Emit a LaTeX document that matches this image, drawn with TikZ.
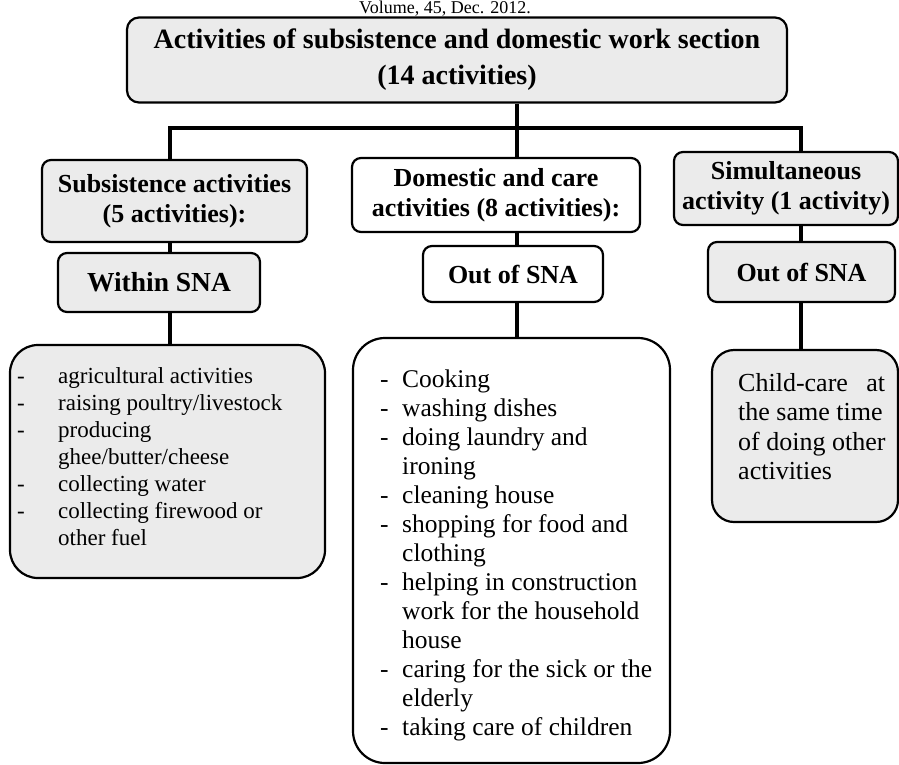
\documentclass[tikz,border=0pt]{standalone}
\usepackage{fontspec}
\setmainfont{Liberation Serif}
\newcommand\hdfont{\bfseries\fontsize{26}{30}\selectfont}
\newcommand\ttlfont{\bfseries\fontsize{28}{36}\selectfont}
\newcommand\lsta{\fontsize{23}{27}\selectfont}
\newcommand\lstb{\fontsize{25.5}{29}\selectfont}
\newcommand\lstc{\fontsize{26}{29.5}\selectfont}
\newcommand\dsha{\makebox[41pt][l]{-}}
\newcommand\inda{\hspace*{41pt}}
\newcommand\dshb{\makebox[22pt][l]{-}}
\newcommand\indb{\hspace*{22pt}}
\begin{document}
\begin{tikzpicture}[x=1pt,y=-1pt,
  box/.style={draw, line width=2.2pt, inner sep=0pt, align=center, rounded corners=9pt, font=\hdfont},
  shaded/.style={fill=black!8},
  plain/.style={fill=white},
  conn/.style={line width=4.5pt},
  txt/.style={inner sep=0pt, anchor=north west, align=left}]
\useasboundingbox (0,0) rectangle (899,764);
\node[anchor=base, font=\fontsize{18}{22}\selectfont, inner sep=0pt] (hdr) at (445,13.5) {Volume, 45, Dec. 2012.};
% coordinates of branches
\coordinate (xl) at (170,128);
\coordinate (xm) at (517,128);
\coordinate (xr) at (801,128);
% boxes
\node[box, shaded, minimum width=660pt, minimum height=85pt, font=\ttlfont, rounded corners=12pt] (top) at (457,60) {Activities of subsistence and domestic work section\\(14 activities)};
\node[box, shaded, minimum width=265pt, minimum height=82pt] (sub) at (174.5,201) {Subsistence activities\\(5 activities):};
\node[box, shaded, minimum width=202pt, minimum height=59pt, font=\bfseries\fontsize{27.5}{30}\selectfont] (win) at (159,282.5) {Within SNA};
\node[box, plain, minimum width=288pt, minimum height=74pt] (dom) at (496,195) {Domestic and care\\activities (8 activities):};
\node[box, plain, minimum width=180pt, minimum height=56pt] (oos1) at (513,274) {Out of SNA};
\node[box, shaded, minimum width=224pt, minimum height=73pt] (sim) at (786,188.5) {Simultaneous\\activity (1 activity)};
\node[box, shaded, minimum width=187pt, minimum height=60pt] (oos2) at (801.5,272) {Out of SNA};
\node[box, shaded, minimum width=315pt, minimum height=233pt, rounded corners=28pt] (lst1) at (167.5,461.5) {};
\node[box, plain, minimum width=317pt, minimum height=425pt, rounded corners=32pt] (lst2) at (511.5,550.5) {};
\node[box, shaded, minimum width=186pt, minimum height=172pt, rounded corners=22pt] (lst3) at (805,436) {};
% texts of lists
\node[txt, font=\lsta] (t1) at (17,367) {\dsha agricultural activities\\\dsha raising poultry/livestock\\\dsha producing\\\inda ghee/butter/cheese\\\dsha collecting water\\\dsha collecting firewood or\\\inda other fuel};
\node[txt, font=\lstb] (t2) at (380,370) {\dshb Cooking\\\dshb washing dishes\\\dshb doing laundry and\\\indb ironing\\\dshb cleaning house\\\dshb shopping for food and\\\indb clothing\\\dshb helping in construction\\\indb work for the household\\\indb house\\\dshb caring for the sick or the\\\indb elderly\\\dshb taking care of children};
\node[txt, font=\lstc] (t3) at (738,373) {\makebox[147pt][s]{Child-care\hfill at}\\the same time\\of doing other\\activities};
% connectors
\draw[conn] (xl |- sub.north) -- (xl) -- (xr) -- (xr |- sim.north);
\draw[conn] (top.south -| xm) -- (xm |- dom.north);
\draw[conn] (sub.south -| xl) -- (win.north -| xl);
\draw[conn] (win.south -| xl) -- (lst1.north -| xl);
\draw[conn] (dom.south -| xm) -- (oos1.north -| xm);
\draw[conn] (oos1.south -| xm) -- (lst2.north -| xm);
\draw[conn] (sim.south -| xr) -- (oos2.north -| xr);
\draw[conn] (oos2.south -| xr) -- (lst3.north -| xr);
\end{tikzpicture}
\end{document}
